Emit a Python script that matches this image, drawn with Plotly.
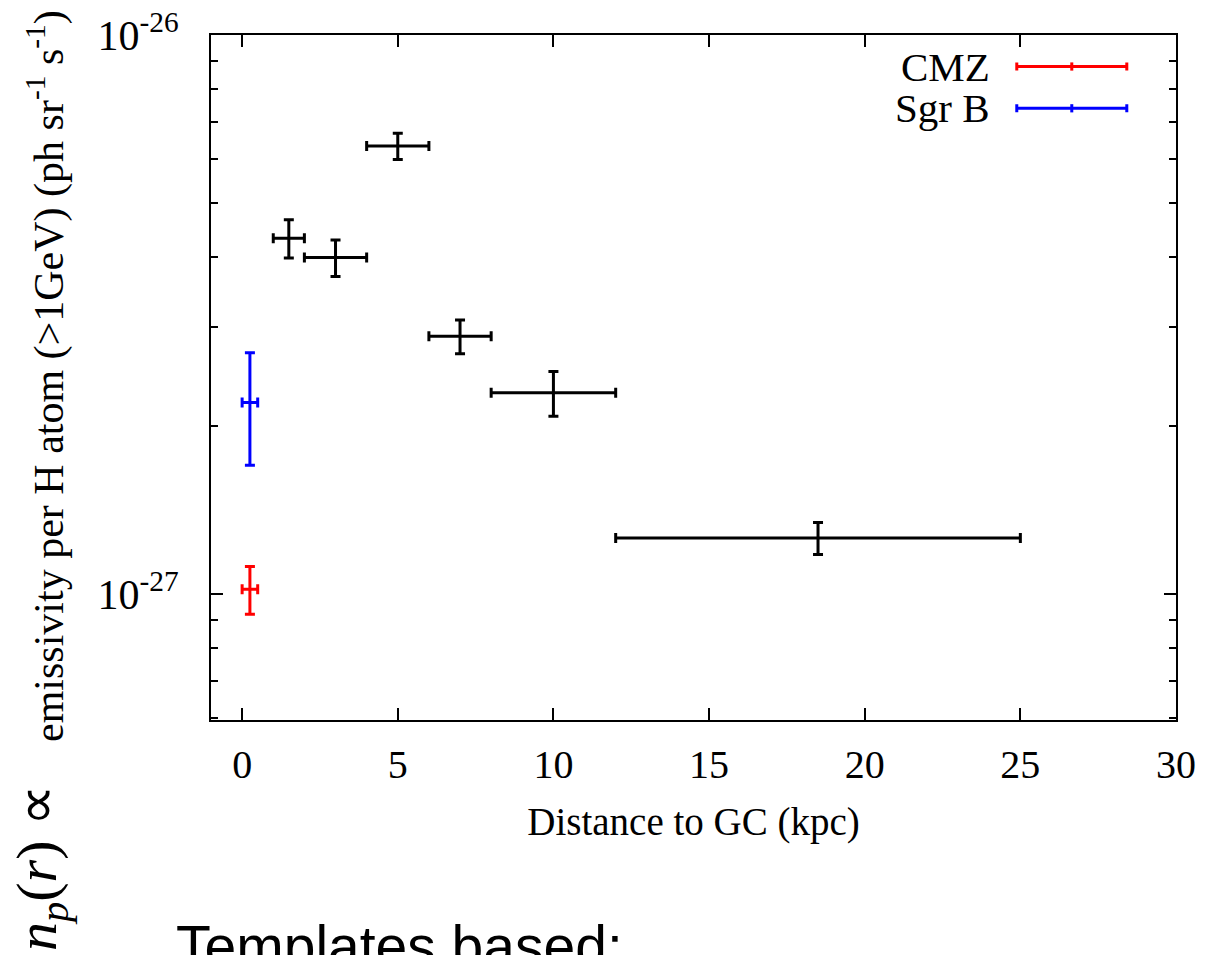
import plotly.graph_objects as go

# ---------------- data ----------------
disk_x = [1.5, 3.0, 5.0, 7.0, 10.0, 18.5]
disk_xerr = [0.5, 1.0, 1.0, 1.0, 2.0, 6.5]
disk_y = [4.33e-27, 4.00e-27, 6.33e-27, 2.89e-27, 2.29e-27, 1.26e-27]
disk_yerr = [0.34e-27, 0.30e-27, 0.34e-27, 0.20e-27, 0.21e-27, 0.083e-27]

cmz_x = [0.25]
cmz_xerr = [0.25]
cmz_y = [1.02e-27]
cmz_yerr = [0.10e-27]

sgrb_x = [0.25]
sgrb_xerr = [0.25]
sgrb_y = [2.20e-27]
sgrb_yerr = [0.50e-27]

x_ticks = [0, 5, 10, 15, 20, 25, 30]
y_major = [1e-27, 1e-26]
y_major_text = ["10<sup>-27</sup>", "10<sup>-26</sup>"]
y_minor = [6e-28, 7e-28, 8e-28, 9e-28, 2e-27, 3e-27, 4e-27, 5e-27, 6e-27,
           7e-27, 8e-27, 9e-27]

legend_names = ["CMZ", "Sgr B"]
legend_colors = ["#ff0000", "#0000ff"]
legend_row_y = [0.954, 0.893]   # paper fraction of legend rows

SERIF = "Liberation Serif, Times New Roman, serif"
L, R, T, B = 211, 30, 35, 235
W, H = 1206, 955
PW, PH = W - L - R, H - T - B

def px_x(px):
    return (px - L) / PW

def px_y(py):
    return (H - B - py) / PH

fig = go.Figure()

def add_err(x, xe, y, ye, color, xaxis="x", yaxis="y", ywidth=5, xwidth=5):
    fig.add_trace(go.Scatter(
        x=x, y=y, mode="markers", xaxis=xaxis, yaxis=yaxis,
        marker=dict(size=1, color=color, opacity=0),
        error_x=dict(type="data", array=xe, visible=True, color=color,
                     thickness=3, width=xwidth),
        error_y=dict(type="data", array=ye, visible=True, color=color,
                     thickness=3, width=ywidth),
        showlegend=False, hoverinfo="skip"))

add_err(disk_x, disk_xerr, disk_y, disk_yerr, "#000000")
add_err(sgrb_x, sgrb_xerr, sgrb_y, sgrb_yerr, "#0000ff")
add_err(cmz_x, cmz_xerr, cmz_y, cmz_yerr, "#ff0000")

# legend samples on a hidden overlay axis pair
for name, col, ry in zip(legend_names, legend_colors, legend_row_y):
    add_err([0.892], [0.057], [ry], [0.006], col, xaxis="x2", yaxis="y2",
            ywidth=0, xwidth=4)
    fig.add_annotation(text=name, xref="paper", yref="paper",
                       x=px_x(992), y=ry, xanchor="right", yanchor="middle",
                       showarrow=False, font=dict(family=SERIF, size=41, color="black"))

axis_common = dict(showline=True, linecolor="black", linewidth=2, mirror="ticks",
                   ticks="inside", tickcolor="black", tickwidth=1.5,
                   showgrid=False, zeroline=False, automargin=False)

fig.update_layout(
    width=W, height=H,
    margin=dict(l=L, r=R, t=T, b=B),
    paper_bgcolor="white", plot_bgcolor="white",
    showlegend=False,
    font=dict(family=SERIF, color="black"),
    xaxis=dict(range=[-1, 30], tickvals=x_ticks, ticklen=12,
               tickfont=dict(family=SERIF, size=40),
               ticklabelstandoff=8,
               title=dict(text="Distance to GC (kpc)",
                          font=dict(family=SERIF, size=39), standoff=22),
               **axis_common),
    yaxis=dict(type="log", range=[-27.2254, -26], tickvals=y_major,
               ticktext=y_major_text, ticklen=12,
               tickfont=dict(family=SERIF, size=42),
               ticklabelstandoff=22,
               minor=dict(tickmode="array", tickvals=y_minor, ticks="inside",
                          ticklen=7, tickcolor="black", tickwidth=1.5),
               **axis_common),
    xaxis2=dict(range=[0, 1], overlaying="x", visible=False),
    yaxis2=dict(range=[0, 1], overlaying="y", visible=False),
)

# rotated y-axis label
fig.add_annotation(
    text="emissivity per H atom (>1GeV) (ph sr<sup>-1</sup> s<sup>-1</sup>)",
    xref="paper", yref="paper", x=px_x(46), y=px_y(376),
    xanchor="center", yanchor="middle", textangle=-90, showarrow=False,
    font=dict(family=SERIF, size=42, color="black"))

fig.add_annotation(
    text="<i>n</i><sub><i>p</i></sub>(<i>r</i>) ∝",
    xref="paper", yref="paper", x=px_x(40), y=px_y(868),
    xanchor="center", yanchor="middle", textangle=-90, showarrow=False,
    font=dict(family=SERIF, size=58, color="black"))

fig.add_annotation(
    text="Templates based:",
    xref="paper", yref="paper", x=px_x(174), y=px_y(946),
    xanchor="left", yanchor="middle", showarrow=False,
    font=dict(family="Liberation Sans, Arial, sans-serif", size=57, color="black"))

fig.write_html("out.html")
